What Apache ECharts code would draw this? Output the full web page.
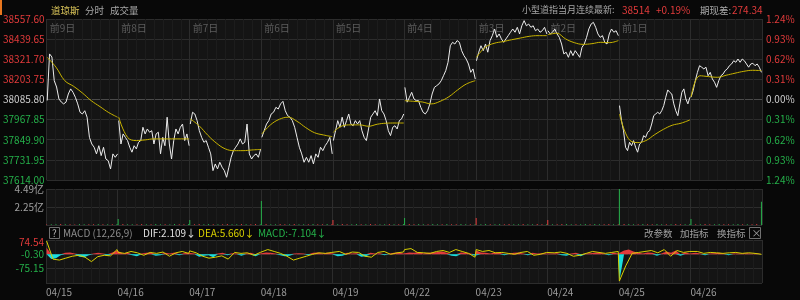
<!DOCTYPE html>
<html><head><meta charset="utf-8">
<script src="https://cdn.jsdelivr.net/npm/echarts@6/dist/echarts.min.js"></script>
<style>html,body{margin:0;padding:0;background:#080808;}#c{width:800px;height:300px;}</style>
</head><body><div id="c"></div>
<script>
// ---------- data ----------
const dayTags = ['前9日','前8日','前7日','前6日','前5日','前4日','前3日','前2日','前1日',''];
const dates = ['04/15','04/16','04/17','04/18','04/19','04/22','04/23','04/24','04/25','04/26'];
const priceTicks = ['37614.00','37731.95','37849.90','37967.85','38085.80','38203.75','38321.70','38439.65','38557.60'];
const pctTicks = ['1.24%','0.93%','0.62%','0.31%','0.00%','0.31%','0.62%','0.93%','1.24%'];
const volTicks = ['', '2.25亿', '4.49亿'];
const macdTicks = ['', '-75.15', '-0.30', '74.54'];
const priceMin = 37614.00, priceMax = 38557.60, priceStep = 117.95;
const volMax = 4.49;
const macdMin = -150, macdStep = 75;

// minute price per day
const p0 = [38080,38353,38335,38196,38159,38089,38071,38060,38070,38118,38148,38128,38099,38060,38011,38001,38020,37982,37864,37825,37806,37767,37815,37757,37806,37737,37727,37679,37767,37747,37767];
const p1 = [37962,37825,37884,37864,37845,37806,37777,37815,37796,37835,37845,37923,37884,37913,37894,37903,37825,37884,37894,37767,37864,37815,37982,37825,37737,37845,37913,37884,37923,37942,37845,37884,37815];
const p2 = [37942,38011,38001,37962,37903,37864,37835,37845,37806,37767,37669,37708,37679,37718,37689,37669,37630,37689,37747,37786,37806,37825,37855,37825,37835,37942,37767,37737,37757,37767,37747,37796];
const p3 = [37864,37903,37942,37962,38001,38011,38040,38030,38060,38075,38020,37991,37982,37962,37923,37864,37806,37767,37718,37747,37718,37757,37708,37767,37747,37806,37786,37815,37835,37864,37767];
const p4 = [37845,37903,37962,37923,37982,37923,37962,38001,37942,37932,37962,37942,37962,37903,37864,37845,37913,37982,38001,38020,37991,38089,38020,38001,37962,37903,37874,37923,37932,37913,37962,37972,38001];
const p5 = [38157,38070,38099,38128,38089,38079,38079,38040,38011,38001,38020,38060,38118,38157,38167,38177,38196,38225,38255,38304,38401,38421,38411,38431,38421,38372,38343,38323,38294,38245,38265,38206];
const p6 = [38313,38363,38401,38372,38411,38363,38431,38460,38499,38450,38470,38441,38421,38441,38460,38480,38499,38480,38509,38470,38518,38548,38518,38528,38509,38518,38489,38499,38480,38489,38509,38470];
const p7 = [38489,38470,38480,38499,38470,38450,38411,38353,38363,38333,38372,38343,38372,38353,38333,38392,38411,38450,38499,38528,38538,38509,38470,38450,38460,38421,38411,38470,38499,38480,38489,38460];
const p8 = [38050,37962,37903,37806,37786,37835,37815,37845,37806,37777,37825,37835,37874,37864,37894,37903,37942,37991,38001,38011,38001,38020,38050,38099,38142,38128,38118,38060,38020,37991,38060,38128,38148,38089,38060,38099];
const p9 = [38099,38138,38196,38245,38284,38275,38265,38275,38225,38245,38206,38187,38157,38196,38225,38235,38255,38265,38284,38294,38313,38304,38323,38304,38323,38313,38294,38275,38294,38298,38284,38294,38275,38245];

// average price per day
const a0 = [38333,38275,38196,38163,38124,38079,38044,38009,37982];
const a1 = [37982,37864,37845,37849,37855,37855,37855,37855,37855];
const a2 = [37972,37932,37876,37829,37796,37786,37786,37790,37793];
const a3 = [37884,37938,37970,37982,37958,37921,37891,37878,37868];
const a4 = [37894,37931,37937,37937,37929,37941,37947,37948,37948];
const a5 = [38079,38075,38071,38060,38075,38102,38142,38177,38196];
const a6 = [38333,38392,38415,38425,38436,38446,38456,38460,38460];
const a7 = [38466,38474,38441,38419,38409,38413,38421,38419,38431];
const a8 = [38001,37857,37833,37845,37880,37911,37935,37947,37966];
const a9 = [38101,38225,38220,38216,38228,38240,38251,38257,38255];

// volume (亿) per day, side: u = up (red), d = down (green)
const v0 = [0.05,0.10,0.08,0.12,0.09,0.10,0.07,0.11,0.08,0.10,0.09,0.12,0.08,0.10,0.09,0.11];
const v1 = [0.75,0.12,0.09,0.10,0.08,0.11,0.09,0.10,0.12,0.08,0.10,0.09,0.11,0.08,0.10,0.12];
const v2 = [0.62,0.10,0.11,0.08,0.12,0.09,0.10,0.08,0.11,0.10,0.09,0.12,0.08,0.10,0.11,0.09];
const v3 = [3.00,0.12,0.10,0.09,0.11,0.08,0.10,0.12,0.09,0.10,0.08,0.11,0.10,0.09,0.12,0.10];
const v4 = [0.62,0.09,0.11,0.10,0.08,0.12,0.09,0.10,0.11,0.08,0.10,0.09,0.12,0.10,0.08,0.11];
const v5 = [0.87,0.11,0.09,0.12,0.10,0.08,0.11,0.09,0.10,0.12,0.08,0.10,0.11,0.09,0.10,0.08];
const v6 = [0.87,0.10,0.12,0.08,0.09,0.11,0.10,0.12,0.08,0.09,0.11,0.10,0.08,0.12,0.09,0.10];
const v7 = [0.62,0.09,0.10,0.11,0.12,0.08,0.09,0.10,0.11,0.08,0.12,0.10,0.09,0.11,0.08,0.10];
const v8 = [4.49,0.12,0.11,0.10,0.09,0.12,0.08,0.10,0.11,0.09,0.10,0.08,0.12,0.09,0.10,0.11];
const v9 = [0.75,0.10,0.08,0.11,0.09,0.10,0.12,0.08,0.10,0.09,0.11,0.08,0.10,0.09,0.11,2.90];
const vs = ['udduduudduududud','dudduududdudduud','duudduduudduduud','dudduududduduudu','uduudduduuddudud',
            'duuddudduduuddud','uddudduuddudduud','uduudduddudduudu','dudduduudduduudd','duduudduudduduud'];

// MACD histogram and DEA per day
const h0 = [35,-25,-20,-5,8,10,5,-12,-15,-5,5,8,5,-8,10,20];
const h1 = [15,5,8,-5,-10,5,8,10,-8,-5,8,5,10,-5,6,8];
const h2 = [10,5,-12,-8,-5,-15,5,8,-5,6,5,-8,5,8,-10,5];
const h3 = [12,10,8,5,-5,-10,-8,5,6,5,-5,8,10,5,8,6];
const h4 = [10,-10,-8,8,5,6,-12,-10,8,5,6,-5,5,8,10,5];
const h5 = [15,10,8,12,5,8,10,12,15,8,-8,-10,10,8,5,-8];
const h6 = [20,10,8,5,10,8,-5,5,8,10,5,-5,8,5,6,5];
const h7 = [8,5,6,-5,-8,5,8,-10,5,6,8,10,5,-5,8,5];
const h8 = [-140,20,25,15,8,5,10,8,-8,5,15,8,20,-8,10,5];
const h9 = [10,8,5,-5,5,6,8,5,-5,5,4,5,6,3,5,4];
const e0 = [70,-25,-30,-20,-10,-5,-15,-38,-12,-5,-8,25];
const e1 = [10,5,15,8,-5,10,5,12,-10,8,15,5];
const e2 = [18,8,-10,-20,-15,-8,-25,10,5,8,-5,10];
const e3 = [15,25,15,5,-10,-30,-20,-10,0,8,5,10];
const e4 = [20,15,0,12,10,-10,-15,10,15,0,8,12];
const e5 = [25,30,10,8,5,15,20,10,25,15,5,-15];
const e6 = [25,15,20,8,10,5,0,10,15,-5,0,10];
const e7 = [10,8,12,5,-10,-5,5,15,10,5,10,15];
const e8 = [-140,-60,5,10,15,20,8,25,-10,20,10,15];
const e9 = [20,15,5,10,8,5,8,10,5,8,5,0];

// ---------- build ----------
const prices = [p0,p1,p2,p3,p4,p5,p6,p7,p8,p9];
const avgs = [a0,a1,a2,a3,a4,a5,a6,a7,a8,a9];
const vols = [v0,v1,v2,v3,v4,v5,v6,v7,v8,v9];
const hists = [h0,h1,h2,h3,h4,h5,h6,h7,h8,h9];
const deas = [e0,e1,e2,e3,e4,e5,e6,e7,e8,e9];
const spread = (arr, d) => arr.map((v, i) => [d + 0.008 + 0.984 * i / (arr.length - 1), v]);

const UP = '#e23b3b', DN = '#25b04a', CY = '#19dede', GRID = '#2c2c2c', MINOR = '#1c1c1c';
const FONT = '"Noto Sans CJK SC", "Liberation Sans", sans-serif';

const series = [];
prices.forEach((arr, d) => series.push({
  type: 'line', xAxisIndex: 0, yAxisIndex: 0, data: spread(arr, d), symbol: 'none',
  lineStyle: { color: '#ececec', width: 1 }, z: 3, silent: true
}));
avgs.forEach((arr, d) => series.push({
  type: 'line', xAxisIndex: 0, yAxisIndex: 0, data: spread(arr, d), symbol: 'none', smooth: 0.4,
  lineStyle: { color: '#c9b400', width: 1 }, z: 4, silent: true
}));
const volData = [];
vols.forEach((arr, d) => spread(arr, d).forEach((pt, i) => volData.push({
  value: pt, itemStyle: { color: vs[d][i] === 'u' ? UP : DN }
})));
series.push({ type: 'bar', xAxisIndex: 1, yAxisIndex: 2, data: volData, barWidth: 1, silent: true });

const histAll = [], deaAll = [];
hists.forEach((arr, d) => spread(arr, d).forEach(pt => histAll.push(pt)));
deas.forEach((arr, d) => spread(arr, d).forEach(pt => deaAll.push(pt)));
series.push({ type: 'line', xAxisIndex: 2, yAxisIndex: 3, symbol: 'none', silent: true,
  data: histAll.map(p => [p[0], Math.max(p[1], 0)]), lineStyle: { width: 0 }, areaStyle: { color: UP, opacity: 1 } });
series.push({ type: 'line', xAxisIndex: 2, yAxisIndex: 3, symbol: 'none', silent: true,
  data: histAll.map(p => [p[0], Math.min(p[1], 0)]), lineStyle: { width: 0 }, areaStyle: { color: CY, opacity: 1 } });
series.push({ type: 'line', xAxisIndex: 2, yAxisIndex: 3, symbol: 'none', silent: true,
  data: deaAll, lineStyle: { color: '#d8d000', width: 1 }, z: 5 });

const tickIdx = (v, min, step) => Math.round((v - min) / step);
const sideColor = (i) => i > 4 ? UP : (i === 4 ? '#cfcfcf' : DN);

const xBase = (gi) => ({
  gridIndex: gi, type: 'value', min: 0, max: 10, interval: 1,
  axisLine: { show: false }, axisTick: { show: false },
  splitLine: { show: true, lineStyle: { color: GRID, width: 1 } },
  minorTick: { show: false, splitNumber: 8 },
  minorSplitLine: { show: true, lineStyle: { color: MINOR, width: 1 } },
  axisLabel: { show: false }
});

const hLines = priceTicks.map((t, i) => i === 4 ? '#4a4a4a' : GRID);

const txt = (x, y, text, fill, size) => ({ type: 'text', x, y, silent: true,
  style: { text, fill, fontSize: size || 10, fontFamily: FONT, verticalAlign: 'middle', align: 'left' } });

const option = {
  backgroundColor: '#080808',
  animation: false,
  grid: [
    { left: 46, right: 38, top: 19, height: 161, show: true, backgroundColor: '#141414', borderWidth: 0 },
    { left: 46, right: 38, top: 189, height: 36, show: true, backgroundColor: '#141414', borderWidth: 0 },
    { left: 46, right: 38, top: 240, height: 43, show: true, backgroundColor: '#141414', borderWidth: 0 }
  ],
  xAxis: [
    Object.assign(xBase(0), { position: 'top', axisLabel: { show: true, inside: true, margin: 4, align: 'left',
      padding: [0, 0, 0, 3], color: '#5c5c5c', fontSize: 10, fontFamily: FONT, verticalAlign: 'top',
      showMaxLabel: false, formatter: v => dayTags[v] || '' } }),
    xBase(1),
    Object.assign(xBase(2), { position: 'bottom', axisLabel: { show: true, margin: 4, align: 'left',
      color: '#9a9a9a', fontSize: 10, fontFamily: FONT, showMaxLabel: false, formatter: v => dates[v] || '' } })
  ],
  yAxis: [
    { gridIndex: 0, type: 'value', min: priceMin, max: priceMax, interval: priceStep, position: 'left',
      axisLine: { show: false }, axisTick: { show: false },
      splitLine: { show: true, lineStyle: { color: hLines } },
      axisLabel: { margin: 2, fontSize: 10, fontFamily: FONT,
        formatter: v => priceTicks[tickIdx(v, priceMin, priceStep)],
        color: v => sideColor(tickIdx(v, priceMin, priceStep)) } },
    { gridIndex: 0, type: 'value', min: priceMin, max: priceMax, interval: priceStep, position: 'right',
      axisLine: { show: false }, axisTick: { show: false }, splitLine: { show: false },
      axisLabel: { margin: 4, fontSize: 10, fontFamily: FONT,
        formatter: v => pctTicks[tickIdx(v, priceMin, priceStep)],
        color: v => sideColor(tickIdx(v, priceMin, priceStep)) } },
    { gridIndex: 1, type: 'value', min: 0, max: volMax, interval: volMax / 2, position: 'left',
      axisLine: { show: false }, axisTick: { show: false },
      splitLine: { show: true, lineStyle: { color: GRID } },
      axisLabel: { margin: 2, fontSize: 10, fontFamily: FONT, color: '#a0a0a0',
        formatter: v => volTicks[Math.round(v / (volMax / 2))] } },
    { gridIndex: 2, type: 'value', min: macdMin, max: macdMin + 3 * macdStep, interval: macdStep, position: 'left',
      axisLine: { show: false }, axisTick: { show: false },
      splitLine: { show: true, lineStyle: { color: GRID } },
      axisLabel: { margin: 2, fontSize: 10, fontFamily: FONT, showMaxLabel: true, hideOverlap: false,
        formatter: v => { const i = tickIdx(v, macdMin, macdStep); return i === 3 ? '{t|' + macdTicks[i] + '}' : macdTicks[i]; },
        rich: { t: { color: UP, fontSize: 10, fontFamily: FONT, padding: [5, 0, 0, 0] } },
        color: v => tickIdx(v, macdMin, macdStep) === 3 ? UP : DN } }
  ],
  series,
  graphic: [
    { type: 'rect', shape: { x: 0, y: 0, width: 2, height: 15 }, style: { fill: '#e8761e' }, silent: true },
    txt(51, 10, '道琼斯', '#dcc65a', 9.5),
    txt(85, 10, '分时', '#a8a8a8', 9.5),
    txt(110, 10, '成交量', '#a8a8a8', 9.5),
    txt(522, 10, '小型道指当月连续最新:', '#a8a8a8', 9),
    txt(622, 10, '38514', UP),
    txt(656, 10, '+0.19%', UP),
    txt(700, 10, '期现差:', '#a8a8a8', 9.5),
    txt(732, 10, '274.34', UP),
    { type: 'rect', shape: { x: 49.5, y: 227.5, width: 10, height: 11 }, style: { fill: 'none', stroke: '#707070', lineWidth: 1 }, silent: true },
    txt(52, 233, '?', '#b0b0b0'),
    txt(63, 233, 'MACD (12,26,9)', '#8c8c8c'),
    txt(143, 233, 'DIF:2.109↓', '#e0e0e0'),
    txt(198, 233, 'DEA:5.660↓', '#d8d000'),
    txt(258, 233, 'MACD:-7.104↓', DN),
    txt(644, 233, '改参数', '#a0a0a0', 9.5),
    txt(680, 233, '加指标', '#a0a0a0', 9.5),
    txt(717, 233, '换指标', '#a0a0a0', 9.5),
    { type: 'rect', shape: { x: 749.5, y: 227.5, width: 11, height: 11 }, style: { fill: 'none', stroke: '#707070', lineWidth: 1 }, silent: true },
    txt(751.5, 233, '×', '#a0a0a0')
  ]
};
const chart = echarts.init(document.getElementById('c'));
chart.setOption(option);
</script></body></html>
